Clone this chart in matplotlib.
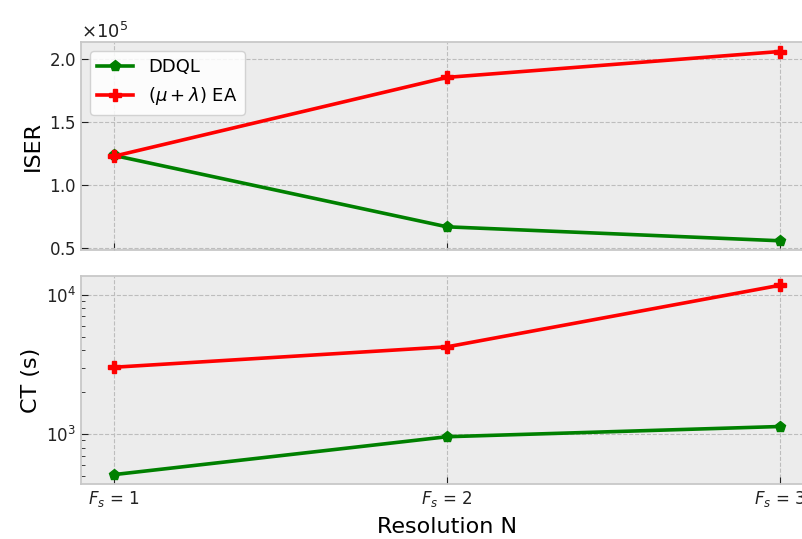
import matplotlib

matplotlib.use("Agg")
import matplotlib.pyplot as plt  # noqa: E402

# data
resolutions = [1, 2, 3]
tick_labels = ["$F_s$ = 1", "$F_s$ = 2", "$F_s$ = 3"]
iser_ddql = [1.235e5, 0.667e5, 0.556e5]
iser_ea = [1.23e5, 1.857e5, 2.063e5]
ct_ddql = [512, 957, 1133]
ct_ea = [3020, 4230, 11700]

GREEN = "#008000"
RED = "#ff0000"

plt.rcParams.update({
    "font.family": "DejaVu Sans",
    "axes.facecolor": "#ececec",
    "axes.edgecolor": "#c8c8c8",
    "axes.linewidth": 1.3,
    "axes.axisbelow": True,
    "grid.color": "#bdbdbd",
    "grid.linestyle": "--",
    "grid.linewidth": 0.8,
    "xtick.direction": "in",
    "ytick.direction": "in",
    "xtick.major.size": 5,
    "ytick.major.size": 5,
    "ytick.minor.size": 3,
    "xtick.color": "#222222",
    "ytick.color": "#222222",
    "xtick.labelsize": 12,
    "ytick.labelsize": 12,
    "axes.labelsize": 16,
})

fig, (ax1, ax2) = plt.subplots(2, 1, sharex=True, figsize=(8.03, 5.39), dpi=100)
fig.subplots_adjust(left=0.101, right=1.0125, top=0.922, bottom=0.102, hspace=0.123)

line_kw = dict(linewidth=2.6, markersize=8)

ax1.plot(resolutions, iser_ddql, color=GREEN, marker="p", label="DDQL", **line_kw)
ax1.plot(resolutions, iser_ea, color=RED, marker="P", label=r"$(\mu + \lambda)$ EA", **line_kw)
ax1.set_ylabel("ISER")
ax1.ticklabel_format(axis="y", style="sci", scilimits=(0, 0), useMathText=True)
ax1.yaxis.get_offset_text().set_fontsize(13)
ax1.grid(True)
ax1.legend(loc="upper left", fontsize=13, facecolor="white", edgecolor="#cccccc",
           framealpha=0.85, handlelength=2.0)

ax2.plot(resolutions, ct_ddql, color=GREEN, marker="p", **line_kw)
ax2.plot(resolutions, ct_ea, color=RED, marker="P", **line_kw)
ax2.set_yscale("log")
ax2.set_ylabel("CT (s)")
ax2.grid(True, which="major")
ax2.set_xticks(resolutions)
ax2.set_xticklabels(tick_labels)
ax2.set_xlabel("Resolution N", labelpad=6)
ax2.set_xlim(0.9, 3.1)

fig.savefig("out.png", dpi=100)
